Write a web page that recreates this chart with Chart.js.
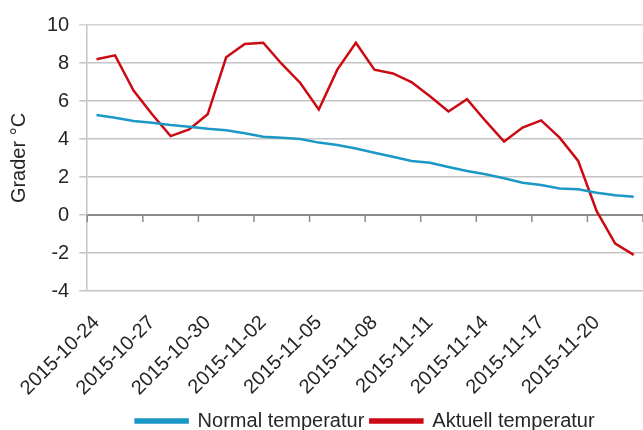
<!DOCTYPE html>
<html>
<head>
<meta charset="utf-8">
<script src="https://cdn.jsdelivr.net/npm/chart.js@4/dist/chart.umd.min.js"></script>
<style>
  html, body { margin: 0; padding: 0; background: #fff; }
  #wrap { width: 643px; height: 430px; }
</style>
</head>
<body>
<div id="wrap"><canvas id="c"></canvas></div>
<script>
// dates, one per day
var dates = [
  "2015-10-24","2015-10-25","2015-10-26","2015-10-27","2015-10-28","2015-10-29",
  "2015-10-30","2015-10-31","2015-11-01","2015-11-02","2015-11-03","2015-11-04",
  "2015-11-05","2015-11-06","2015-11-07","2015-11-08","2015-11-09","2015-11-10",
  "2015-11-11","2015-11-12","2015-11-13","2015-11-14","2015-11-15","2015-11-16",
  "2015-11-17","2015-11-18","2015-11-19","2015-11-20","2015-11-21","2015-11-22"
];

var normalTemp = [5.26, 5.12, 4.95, 4.86, 4.74, 4.65, 4.54, 4.46, 4.3, 4.12,
                  4.07, 4.0, 3.81, 3.68, 3.5, 3.28, 3.07, 2.84, 2.75, 2.53,
                  2.32, 2.14, 1.93, 1.7, 1.58, 1.4, 1.35, 1.17, 1.04, 0.96];

var aktuellTemp = [8.2, 8.4, 6.55, 5.3, 4.15, 4.5, 5.3, 8.3, 9.0, 9.07,
                   7.95, 6.95, 5.55, 7.65, 9.07, 7.65, 7.45, 7.0, 6.25, 5.45,
                   6.1, 4.95, 3.87, 4.6, 4.98, 4.07, 2.85, 0.2, -1.5, -2.1];

var yTicks = [-4, -2, 0, 2, 4, 6, 8, 10];
var labelStep = 3;

var textColor = "#262626";
var fontName = "'Liberation Sans', Arial, sans-serif";

// zero line + small tick marks on it (excel style axis crossing at 0)
var zeroAxis = {
  id: "zeroAxis",
  beforeDatasetsDraw: function(chart) {
    var ctx = chart.ctx;
    var xs = chart.scales.x, ys = chart.scales.y;
    var y0 = ys.getPixelForValue(0);
    var half = (xs.getPixelForValue(1) - xs.getPixelForValue(0)) / 2;
    ctx.save();
    ctx.strokeStyle = "#8c8c8c";
    ctx.lineWidth = 2;
    ctx.beginPath();
    ctx.moveTo(chart.chartArea.left, y0);
    ctx.lineTo(chart.chartArea.right, y0);
    ctx.stroke();
    ctx.lineWidth = 1.5;
    for (var i = 0; i <= dates.length; i += labelStep) {
      var x = xs.getPixelForValue(Math.min(i, dates.length - 1)) + (i == dates.length ? half : -half);
      ctx.beginPath();
      ctx.moveTo(x, y0);
      ctx.lineTo(x, y0 + 7);
      ctx.stroke();
    }
    ctx.restore();
  }
};

var chart = new Chart(document.getElementById("c"), {
  type: "line",
  data: {
    labels: dates,
    datasets: [{
      label: "Normal temperatur",
      data: normalTemp,
      borderColor: "#1b98c6",
      backgroundColor: "#1b98c6",
      borderWidth: 2.5,
      pointRadius: 0,
      tension: 0
    }, {
      label: "Aktuell temperatur",
      data: aktuellTemp,
      borderColor: "#cc0a14",
      backgroundColor: "#cc0a14",
      borderWidth: 2.5,
      pointRadius: 0,
      tension: 0
    }]
  },
  options: {
    responsive: true,
    maintainAspectRatio: false,
    animation: false,
    layout: { padding: { top: 25, right: 0, left: 0, bottom: -11 } },
    plugins: {
      tooltip: { enabled: false },
      legend: {
        position: "bottom",
        fullSize: false,
        labels: {
          boxWidth: 52,
          boxHeight: 3,
          padding: 6,
          color: textColor,
          font: { family: fontName, size: 20 }
        }
      }
    },
    scales: {
      x: {
        offset: true,
        grid: { display: false },
        border: { display: false },
        afterFit: function(axis) {
          axis.paddingRight = 0;
          axis.paddingLeft = 0;
          axis.height = 114;
        },
        ticks: {
          autoSkip: false,
          minRotation: 45,
          maxRotation: 45,
          padding: 12,
          color: textColor,
          font: { family: fontName, size: 20 },
          callback: function(v, i) { return i % labelStep == 0 ? dates[i] : ""; }
        }
      },
      y: {
        min: -4,
        max: 10,
        afterBuildTicks: function(axis) {
          axis.ticks = yTicks.map(function(v) { return { value: v }; });
        },
        grid: {
          color: function(c) { return c.tick && c.tick.value == 10 ? "#d4d4d4" : "#c4c4c4"; },
          tickLength: 8,
          lineWidth: 1.5
        },
        border: { display: true, color: "#c4c4c4", width: 1.5 },
        ticks: {
          padding: 10,
          color: textColor,
          font: { family: fontName, size: 20 }
        },
        title: {
          display: true,
          text: "Grader °C",
          color: textColor,
          font: { family: fontName, size: 20 },
          padding: { top: 7, bottom: 6 }
        }
      }
    }
  },
  plugins: [zeroAxis]
});
</script>
</body>
</html>
